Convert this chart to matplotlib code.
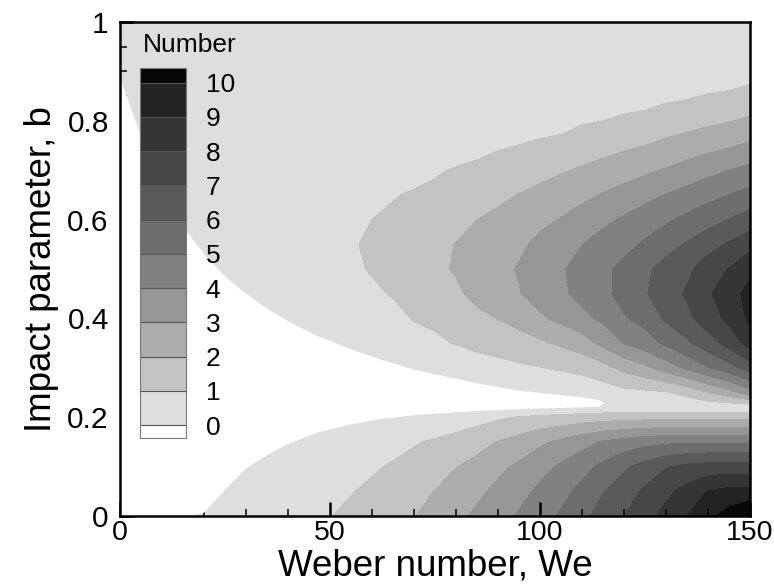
import numpy as np
import matplotlib
matplotlib.use("Agg")
import matplotlib.pyplot as plt
from matplotlib.colors import ListedColormap
from matplotlib.ticker import MultipleLocator, FuncFormatter

plt.rcParams['font.family'] = ['Liberation Sans', 'DejaVu Sans']

# grid: We every 5, b rows denser near the valley at b~0.22
we = list(range(0, 151, 5))
b = [0, 0.05, 0.1, 0.15, 0.2, 0.22, 0.25, 0.3, 0.35, 0.4, 0.45, 0.5,
     0.55, 0.6, 0.65, 0.7, 0.75, 0.8, 0.85, 0.9, 1.0]

# number of satellite droplets, one row per b value (estimated from the bands)
n_sat = [
    [0, 0, 0, 0, 0.01, 0.17, 0.33, 0.49, 0.65, 0.81, 0.97, 1.2, 1.46, 1.71, 1.97, 2.35,
     2.76, 3.18, 3.64, 4.1, 4.6, 5.13, 5.75, 6.38, 7.0, 7.63, 8.29, 9.0, 9.71, 10.43, 11.1],
    [0] * 6 + [0.13, 0.27, 0.41, 0.55, 0.69, 0.95, 1.19, 1.41, 1.64, 2.02, 2.37, 2.78,
               3.25, 3.67, 4.21, 4.66, 5.28, 5.96, 6.47, 7.18, 7.77, 8.35, 9.05, 9.28, 9.29],
    [0] * 7 + [0.05, 0.17, 0.29, 0.40, 0.59, 0.87, 1.11, 1.30, 1.57, 1.97, 2.29, 2.75,
               3.18, 3.65, 4.15, 4.65, 5.22, 5.86, 6.36, 6.93, 7.24, 7.39, 7.43, 7.43],
    [0] * 9 + [0.03, 0.12, 0.24, 0.40, 0.62, 0.92, 1.13, 1.36, 1.66, 2.04, 2.38, 2.83,
               3.22, 3.65, 4.08, 4.38, 4.65, 4.8, 4.88, 4.88, 4.88, 4.88],
    [0] * 14 + [0.11, 0.23, 0.42, 0.61, 0.86, 1.06, 1.2, 1.33, 1.47, 1.56, 1.63, 1.67,
                1.67, 1.67, 1.67, 1.67, 1.67],
    [0] * 20 + [0.06, 0.1, 0.15, 0.25, 0.3, 0.3, 0.3, 0.3, 0.3, 0.3, 0.3],
    [0] * 21 + [0.1, 0.2, 0.5, 0.71, 0.8, 0.93, 1.31, 2.0, 2.64, 3.64],
    [0] * 15 + [0.15, 0.26, 0.55, 0.69, 0.85, 0.97, 1.14, 1.33, 1.65, 2.29, 2.78, 3.48,
                4.19, 4.95, 5.63, 6.5],
    [0] * 12 + [0.19, 0.24, 0.57, 0.82, 1.06, 1.26, 1.42, 1.63, 1.84, 2.15, 2.52, 3.29,
                4.05, 4.54, 5.2, 5.83, 6.56, 7.38, 8.43],
    [0] * 11 + [0.19, 0.52, 0.71, 1.06, 1.2, 1.45, 1.77, 2.03, 2.32, 2.85, 3.25, 3.75,
                4.2, 4.91, 5.31, 6.16, 6.75, 7.54, 8.24, 9.2],
    [0] * 9 + [0.17, 0.38, 0.61, 0.84, 1.07, 1.3, 1.46, 1.84, 2.25, 2.6, 2.95, 3.38,
               3.83, 4.29, 4.77, 5.31, 5.92, 6.52, 7.13, 7.86, 8.6, 9.33],
    [0] * 7 + [0.03, 0.23, 0.43, 0.63, 0.85, 1.07, 1.32, 1.56, 1.82, 2.08, 2.42, 2.74,
               3.07, 3.48, 3.9, 4.33, 4.77, 5.26, 5.81, 6.36, 6.76, 7.54, 8.04, 8.77],
    [0] * 7 + [0.12, 0.32, 0.52, 0.72, 0.92, 1.13, 1.36, 1.59, 1.80, 2.02, 2.30, 2.6,
               2.81, 3.24, 3.61, 3.98, 4.37, 4.71, 5.13, 5.63, 6.1, 6.59, 7.12, 7.64],
    [0] * 8 + [0.23, 0.43, 0.63, 0.82, 1.0, 1.2, 1.41, 1.58, 1.70, 2.0, 2.18, 2.42,
               2.76, 3.05, 3.39, 3.78, 4.13, 4.48, 4.85, 5.24, 5.65, 6.02, 6.46],
    [0] * 9 + [0.17, 0.38, 0.54, 0.65, 0.93, 1.12, 1.2, 1.37, 1.59, 1.82, 2.03, 2.25,
               2.5, 2.77, 3.06, 3.36, 3.7, 4.03, 4.35, 4.68, 5.0, 5.34],
    [0] * 11 + [0.09, 0.2, 0.4, 0.6, 0.9, 1.08, 1.18, 1.36, 1.53, 1.72, 1.91, 2.11,
                2.33, 2.57, 2.82, 3.08, 3.39, 3.7, 4.0, 4.29],
    [0] * 16 + [0.5, 0.75, 0.9, 1.02, 1.19, 1.32, 1.5, 1.65, 1.83, 2.0, 2.22, 2.45,
                2.67, 2.9, 3.16],
    [0] * 19 + [0.3, 0.5, 0.6, 0.9, 1.0, 1.19, 1.3, 1.49, 1.62, 1.8, 1.95, 2.16],
    [0] * 22 + [0.2, 0.35, 0.5, 0.6, 0.8, 0.9, 1.07, 1.15, 1.35],
    [0] * 26 + [0.1, 0.25, 0.4, 0.5, 0.6],
    [0] * 31,
]

# coalescence (no separation) region: upper and lower edge
coal_we = [0, 2, 4, 6, 8, 10, 12, 14, 16, 20, 25, 30, 35, 40, 47, 55, 62.6,
           70, 78.6, 86, 94.5, 102, 110, 114, 115]
coal_top = [0.885, 0.84, 0.79, 0.745, 0.705, 0.67, 0.635, 0.605, 0.575, 0.53,
            0.485, 0.45, 0.42, 0.395, 0.365, 0.338, 0.316, 0.297, 0.281,
            0.268, 0.255, 0.248, 0.241, 0.236, 0.229]
coal_bot = [0, 0, 0, 0, 0, 0, 0, 0, 0, 0.008, 0.055, 0.098, 0.125, 0.147,
            0.17, 0.187, 0.198, 0.205, 0.21, 0.214, 0.217, 0.219, 0.221,
            0.222, 0.229]

level_labels = [str(i) for i in range(11)]
# bottom level sits just under 0 so that zero values fall in the first band
levels = [-0.001] + list(range(1, 11))
grays = ['#dedede', '#c3c3c3', '#acacac', '#969696', '#818181',
         '#6d6d6d', '#5a5a5a', '#474747', '#353535', '#232323']

cmap = ListedColormap(grays)
cmap.set_under('white')
cmap.set_over('#080808')

fig = plt.figure(figsize=(7.74, 5.87), dpi=100)
ax = fig.add_axes([0.155, 0.121, 0.814, 0.8415])

cf = ax.contourf(we, b, np.array(n_sat), levels=levels, cmap=cmap, extend='both')
ax.fill_between(coal_we, coal_bot, coal_top, color='white', lw=0, zorder=2)

ax.set_xlim(0, 150)
ax.set_ylim(0, 1)
ax.xaxis.set_major_locator(MultipleLocator(50))
ax.xaxis.set_minor_locator(MultipleLocator(10))
ax.yaxis.set_major_locator(MultipleLocator(0.2))
ax.yaxis.set_minor_locator(MultipleLocator(0.05))
fmt = FuncFormatter(lambda v, p: f"{v:g}")
ax.xaxis.set_major_formatter(fmt)
ax.yaxis.set_major_formatter(fmt)
ax.tick_params(which='major', direction='in', length=10, width=1.8,
               top=False, right=False)
ax.tick_params(axis='x', which='major', pad=3, labelsize=20.5)
ax.tick_params(axis='y', which='major', pad=8, labelsize=21.5)
ax.tick_params(which='minor', direction='in', length=5, width=1.1,
               top=False, right=False)
for s in ax.spines.values():
    s.set_linewidth(1.8)

ax.set_xlabel('Weber number, We', fontsize=26.5, labelpad=2)
ax.set_ylabel('Impact parameter, b', fontsize=26.5, labelpad=6)

# legend bar inside the plot
cax = ax.inset_axes([0.032, 0.158, 0.073, 0.749])
cb = fig.colorbar(cf, cax=cax, extend='both', extendrect=True,
                  extendfrac=(0.0375, 0.043), drawedges=True)
cb.set_ticks(levels, labels=level_labels)
cb.ax.tick_params(length=0, labelsize=19, pad=14)
cb.outline.set_edgecolor('#777777')
cb.outline.set_linewidth(0.8)
cb.dividers.set_color('#555555')
cb.dividers.set_linewidth(0.8)
ax.text(0.037, 0.953, 'Number', transform=ax.transAxes, fontsize=19,
        ha='left', va='center')

fig.savefig('out.png', dpi=100)
